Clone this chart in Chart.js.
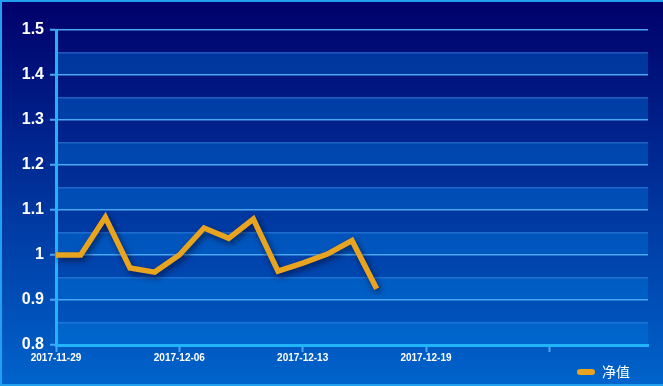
<!DOCTYPE html>
<html>
<head>
    <title>净值</title>
    <script src="https://cdn.jsdelivr.net/npm/chart.js"></script>
    <style>
        html, body { margin: 0; padding: 0; background: #00106e; }
        #wrap { width: 663px; height: 386px; }
    </style>
</head>
<body>
    <div id="wrap">
        <canvas id="navChart" width="663" height="386"></canvas>
    </div>

    <script>
        // categories (25 slots, labels shown every 5th)
        const dates = [
            '2017-11-29', '2017-11-30', '2017-12-01', '2017-12-04', '2017-12-05',
            '2017-12-06', '2017-12-07', '2017-12-08', '2017-12-11', '2017-12-12',
            '2017-12-13', '2017-12-14', '2017-12-15', '2017-12-18', '2017-12-18 ',
            '2017-12-19', '', ' ', '  ', '   ',
            '    ', '     ', '      ', '       ', '        '
        ];
        // net value series
        const navValues = [1.0, 1.0, 1.084, 0.971, 0.962, 1.0, 1.06, 1.037, 1.08, 0.964, 0.982, 1.002, 1.032, 0.925];
        const yTicks = [0.8, 0.9, 1, 1.1, 1.2, 1.3, 1.4, 1.5];

        const gridMajor = '#4aa8f2';
        const gridMinor = 'rgba(70,150,240,0.45)';

        // page background + border
        const backdrop = {
            id: 'backdrop',
            beforeDraw(chart) {
                const c = chart.ctx;
                const g = c.createLinearGradient(0, 0, 0, chart.height);
                g.addColorStop(0, '#00006a');
                g.addColorStop(1, '#0064cc');
                c.save();
                c.fillStyle = g;
                c.fillRect(0, 0, chart.width, chart.height);

                // alternating bands every 0.05
                const y = chart.scales.y;
                const area = chart.chartArea;
                c.fillStyle = 'rgba(0,130,230,0.35)';
                for (let v = 0.8; v < 1.49; v += 0.1) {
                    const top = y.getPixelForValue(v + 0.05);
                    const bot = y.getPixelForValue(v);
                    c.fillRect(area.left, top, area.right - area.left, bot - top);
                }
                c.restore();
            },
            afterDraw(chart) {
                const c = chart.ctx;
                c.save();
                c.strokeStyle = '#22a0f0';
                c.lineWidth = 2;
                c.beginPath();
                c.moveTo(chart.width, 1);
                c.lineTo(1, 1);
                c.lineTo(1, chart.height - 1);
                c.lineTo(chart.width, chart.height - 1);
                c.stroke();
                c.restore();
            }
        };

        // nudge legend left and up a little
        const legendShift = {
            id: 'legendShift',
            afterLayout(chart) {
                const lg = chart.legend;
                if (lg) {
                    lg.right -= 12;
                    lg.width -= 12;
                    lg.top -= 6;
                    lg.bottom -= 6;
                }
            }
        };

        // shadow under the line
        const lineShadow = {
            id: 'lineShadow',
            beforeDatasetsDraw(chart) {
                const c = chart.ctx;
                c.save();
                c.shadowColor = 'rgba(0,0,30,0.6)';
                c.shadowBlur = 6;
                c.shadowOffsetX = 2;
                c.shadowOffsetY = 3;
            },
            afterDatasetsDraw(chart) {
                chart.ctx.restore();
            }
        };

        const ctx = document.getElementById('navChart').getContext('2d');
        new Chart(ctx, {
            type: 'line',
            data: {
                labels: dates,
                datasets: [{
                    label: '净值',
                    data: navValues,
                    borderColor: '#e8a41e',
                    backgroundColor: '#e8a41e',
                    borderWidth: 5.5,
                    pointRadius: 0,
                    tension: 0,
                    borderJoinStyle: 'miter'
                }]
            },
            options: {
                responsive: false,
                animation: false,
                layout: {
                    padding: { left: 0, right: 15, top: 30, bottom: -9 }
                },
                scales: {
                    x: {
                        offset: false,
                        grid: {
                            drawOnChartArea: false,
                            tickLength: 7,
                            tickWidth: 2,
                            tickColor: gridMajor
                        },
                        border: { color: '#22b4f8', width: 3 },
                        ticks: {
                            autoSkip: false,
                            maxRotation: 0,
                            padding: 0,
                            color: '#ffffff',
                            font: { family: 'Arial, "Liberation Sans"', size: 10, weight: 'bold' },
                            callback(value, index) {
                                if (index % 5 !== 0) return null;
                                return dates[index].trim();
                            }
                        },
                        afterFit(scale) { scale.height = 20; }
                    },
                    y: {
                        min: 0.8,
                        max: 1.5,
                        grid: {
                            color: c => (Math.round(c.tick.value * 100) % 10 === 0 ? gridMajor : gridMinor),
                            lineWidth: 1.5,
                            tickLength: 6,
                            tickWidth: 2,
                            tickColor: c => (Math.round(c.tick.value * 100) % 10 === 0 ? gridMajor : 'transparent')
                        },
                        border: { color: '#22b4f8', width: 3 },
                        ticks: {
                            stepSize: 0.05,
                            padding: 6,
                            color: '#ffffff',
                            font: { family: 'Arial, "Liberation Sans"', size: 16, weight: 'bold' },
                            callback(value) {
                                const v = Math.round(value * 100) / 100;
                                return yTicks.includes(v) ? String(v) : '';
                            }
                        },
                        afterFit(scale) { scale.width = 56; }
                    }
                },
                plugins: {
                    legend: {
                        display: true,
                        position: 'bottom',
                        align: 'end',
                        labels: {
                            color: '#ffffff',
                            boxWidth: 18,
                            boxHeight: 6,
                            useBorderRadius: true,
                            borderRadius: 3,
                            padding: 6,
                            font: { family: '"Noto Sans CJK SC", sans-serif', size: 14 },
                            generateLabels(chart) {
                                return [{
                                    text: '净值',
                                    fillStyle: '#e8a41e',
                                    strokeStyle: '#e8a41e',
                                    lineWidth: 0,
                                    fontColor: '#ffffff',
                                    borderRadius: 3,
                                    datasetIndex: 0
                                }];
                            }
                        }
                    },
                    tooltip: { enabled: false }
                }
            },
            plugins: [backdrop, legendShift, lineShadow]
        });
    </script>
</body>
</html>
